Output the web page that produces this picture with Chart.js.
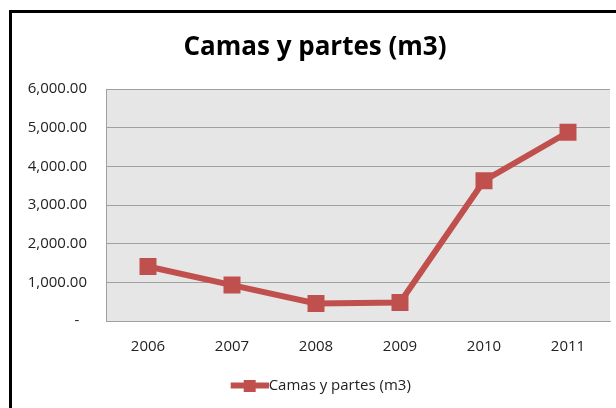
<!DOCTYPE html>
<html>
<head>
<meta charset="utf-8">
<script src="https://cdn.jsdelivr.net/npm/chart.js@4"></script>
<style>
  html, body { margin: 0; padding: 0; background: #fff; }
  #wrap { position: relative; width: 616px; height: 408px; overflow: hidden; }
  #frame { position: absolute; left: 9px; top: 10px; width: 700px; height: 500px;
           border-left: 3px solid #000; border-top: 3px solid #000; pointer-events: none; }
</style>
</head>
<body>
<div id="wrap">
  <canvas id="chart" width="616" height="408"></canvas>
  <div id="frame"></div>
</div>
<script>
// datos
const years = ['2006', '2007', '2008', '2009', '2010', '2011'];
const camas = [1410, 930, 455, 480, 3630, 4885];
const seriesName = 'Camas y partes (m3)';

const red = '#c0504d';
const font = "'Open Sans', sans-serif";

// icono de la leyenda: linea con cuadrado (pegado al texto)
const legendIcon = document.createElement('canvas');
legendIcon.width = 57;
legendIcon.height = 12;
const ictx = legendIcon.getContext('2d');
ictx.fillStyle = red;
ictx.fillRect(19, 3, 38, 6);
ictx.fillRect(32, 0, 12, 12);

// fondo gris del area de trazado
const plotBg = {
    id: 'plotBg',
    beforeDraw(chart) {
        const a = chart.chartArea;
        const ctx = chart.ctx;
        ctx.save();
        ctx.fillStyle = '#e6e6e6';
        ctx.fillRect(a.left, a.top, a.right - a.left, a.bottom - a.top);
        ctx.restore();
    }
};

new Chart(document.getElementById('chart'), {
    type: 'line',
    data: {
        labels: years,
        datasets: [{
            label: seriesName,
            data: camas,
            borderColor: red,
            backgroundColor: red,
            borderWidth: 6,
            pointStyle: 'rect',
            pointRadius: 12,
            pointBorderWidth: 0,
            pointBackgroundColor: red,
            tension: 0
        }]
    },
    options: {
        responsive: false,
        animation: false,
        layout: { autoPadding: false, padding: { left: 20, right: 6, top: 8, bottom: 5 } },
        plugins: {
            title: {
                display: true,
                text: seriesName,
                color: '#000',
                font: { family: font, size: 26, weight: 'bold' },
                padding: { top: 24, bottom: 26 }
            },
            legend: {
                position: 'bottom',
                labels: {
                    usePointStyle: true,
                    pointStyle: legendIcon,
                    pointStyleWidth: 42,
                    color: '#222',
                    font: { family: font, size: 15 },
                    padding: 5
                }
            },
            tooltip: { enabled: false }
        },
        scales: {
            x: {
                offset: true,
                afterFit(scale) { scale.paddingLeft = 0; scale.paddingRight = 0; },
                grid: { display: false, drawTicks: false },
                border: { display: true, color: '#a0a0a0', width: 1 },
                ticks: { color: '#222', font: { family: font, size: 15 }, padding: 17 }
            },
            y: {
                min: 0,
                max: 6000,
                afterFit(scale) { scale.width = 86; },
                grid: { color: '#a0a0a0', drawTicks: false },
                border: { display: true, color: '#a0a0a0', width: 1 },
                ticks: {
                    stepSize: 1000,
                    color: '#222',
                    font: { family: font, size: 15 },
                    padding: 19,
                    callback: v => v === 0 ? '-  ' : v.toLocaleString('en-US', { minimumFractionDigits: 2, maximumFractionDigits: 2 })
                }
            }
        }
    },
    plugins: [plotBg]
});
</script>
</body>
</html>
